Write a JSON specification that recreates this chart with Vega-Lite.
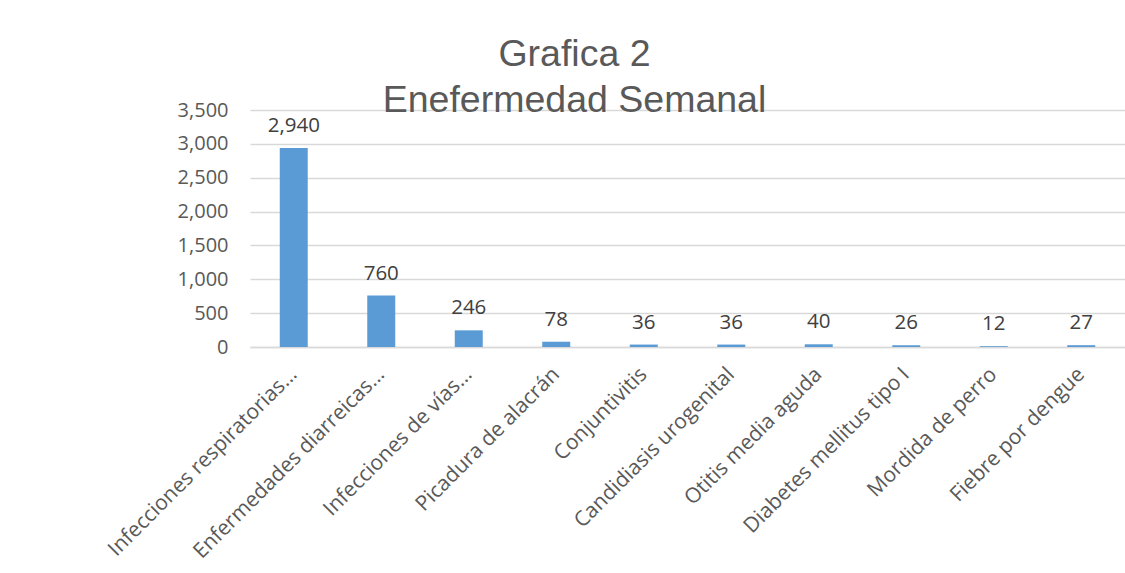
{
  "$schema": "https://vega.github.io/schema/vega-lite/v6.json",
  "autosize": {"type": "none"},
  "padding": {"left": 250, "top": 110, "right": 0, "bottom": 226},
  "width": 875,
  "height": 237,
  "background": "white",
  "title": {
    "text": ["Grafica 2", "Enefermedad Semanal"],
    "font": "Liberation Sans",
    "fontSize": 37.5,
    "fontWeight": "normal",
    "color": "#595959",
    "lineHeight": 46,
    "anchor": "middle",
    "baseline": "alphabetic",
    "offset": -3,
    "dy": 46,
    "dx": -113
  },
  "data": {
    "values": [
      {"enfermedad": "Infecciones respiratorias…", "casos": 2940},
      {"enfermedad": "Enfermedades diarreicas…", "casos": 760},
      {"enfermedad": "Infecciones de vías…", "casos": 246},
      {"enfermedad": "Picadura de alacrán", "casos": 78},
      {"enfermedad": "Conjuntivitis", "casos": 36},
      {"enfermedad": "Candidiasis urogenital", "casos": 36},
      {"enfermedad": "Otitis media aguda", "casos": 40},
      {"enfermedad": "Diabetes mellitus tipo I", "casos": 26},
      {"enfermedad": "Mordida de perro", "casos": 12},
      {"enfermedad": "Fiebre por dengue", "casos": 27}
    ]
  },
  "encoding": {
    "x": {
      "field": "enfermedad",
      "type": "nominal",
      "sort": null,
      "scale": {"paddingInner": 0.68, "paddingOuter": 0.34},
      "axis": {
        "title": null,
        "labelAngle": -45,
        "labelAlign": "right",
        "labelBaseline": "middle",
        "labelPadding": 24,
        "labelFont": "Open Sans",
        "labelFontSize": 21,
        "labelColor": "#595959",
        "labelLimit": 400,
        "ticks": false,
        "domainColor": "#d9d9d9",
        "domainWidth": 1.5,
        "grid": false
      }
    },
    "y": {
      "field": "casos",
      "type": "quantitative",
      "scale": {"domain": [0, 3500], "nice": false},
      "axis": {
        "title": null,
        "values": [0, 500, 1000, 1500, 2000, 2500, 3000, 3500],
        "format": ",.0f",
        "labelFont": "Open Sans",
        "labelFontSize": 20,
        "labelColor": "#595959",
        "labelPadding": 22,
        "ticks": false,
        "domain": false,
        "grid": true,
        "gridColor": "#d9d9d9",
        "gridWidth": 1.5
      }
    }
  },
  "layer": [
    {"mark": {"type": "bar", "color": "#5b9bd5"}},
    {
      "mark": {"type": "text", "baseline": "alphabetic", "dy": -16, "font": "Open Sans", "fontSize": 20.5, "color": "#404040"},
      "encoding": {"text": {"field": "casos", "type": "quantitative", "format": ","}}
    }
  ],
  "config": {"view": {"stroke": null}}
}
